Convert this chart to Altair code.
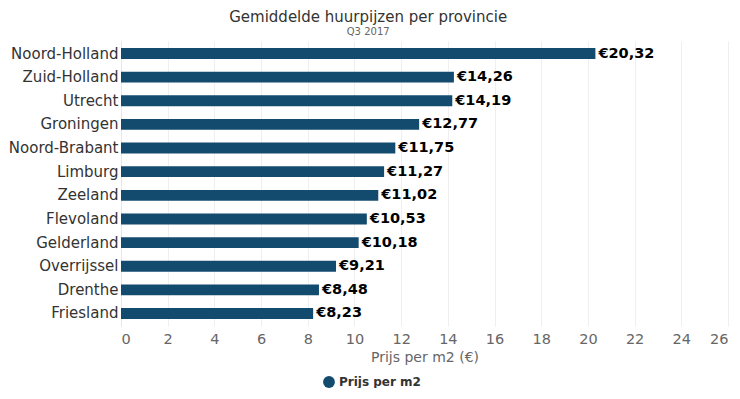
import altair as alt
import pandas as pd

provinces = ["Noord-Holland", "Zuid-Holland", "Utrecht", "Groningen", "Noord-Brabant",
             "Limburg", "Zeeland", "Flevoland", "Gelderland", "Overrijssel", "Drenthe", "Friesland"]
prices = [20.32, 14.26, 14.19, 12.77, 11.75, 11.27, 11.02, 10.53, 10.18, 9.21, 8.48, 8.23]
series = ["Prijs per m2"] * len(provinces)
x_ticks = list(range(0, 27, 2))

df = pd.DataFrame({"provincie": provinces, "prijs": prices, "serie": series})
df["label"] = ["€" + f"{v:.2f}".replace(".", ",") for v in prices]

FONT = "DejaVu Sans"
BAR = "#134b6f"

y_enc = alt.Y("provincie:N", sort=provinces, title=None,
              scale=alt.Scale(paddingInner=0.54, paddingOuter=0.3),
              axis=alt.Axis(labelFontSize=15, labelColor="#333333", labelFont=FONT,
                            ticks=False, labelPadding=3, domain=True, domainColor="#e6e6e6",
                            grid=False))
x_enc = alt.X("prijs:Q", title="Prijs per m2 (€)",
              scale=alt.Scale(domain=[0, 26], nice=False),
              axis=alt.Axis(values=x_ticks, labelFontSize=14.5, labelColor="#666666",
                            labelFont=FONT, titleFont=FONT, titleFontSize=14,
                            titleFontWeight="normal", titleColor="#666666", titlePadding=5,
                            ticks=False, domain=False, grid=True, gridColor="#efefef",
                            labelPadding=6, labelFlush=True))

bars = alt.Chart(df).mark_bar(color=BAR).encode(
    x=x_enc, y=y_enc,
    color=alt.Color("serie:N", scale=alt.Scale(range=[BAR]), title=None,
                    legend=alt.Legend(orient="none", legendX=202, legendY=335,
                                      symbolType="circle", symbolSize=140,
                                      labelFontWeight="bold", labelFontSize=12,
                                      labelFont=FONT, labelColor="#333333",
                                      symbolStrokeWidth=0, symbolFillColor=BAR))
)

labels = alt.Chart(df).mark_text(align="left", baseline="middle", dx=3, fontSize=14.5,
                                 fontWeight="bold", font=FONT, color="#000000").encode(
    x="prijs:Q", y=alt.Y("provincie:N", sort=provinces), text="label:N")

chart = alt.layer(bars, labels).properties(
    width=607, height=285,
    title=alt.TitleParams("Gemiddelde huurpijzen per provincie", subtitle="Q3 2017",
                          font=FONT, fontSize=15, fontWeight="normal", color="#333333",
                          subtitleFont=FONT, subtitleFontSize=10, subtitleColor="#666666",
                          anchor="middle", frame="bounds", offset=4, subtitlePadding=2),
    padding={"left": 0, "top": 2, "right": 2, "bottom": 0}
).configure_view(stroke=None)

chart.save("out.html", embed_options={"renderer": "svg", "actions": False})
